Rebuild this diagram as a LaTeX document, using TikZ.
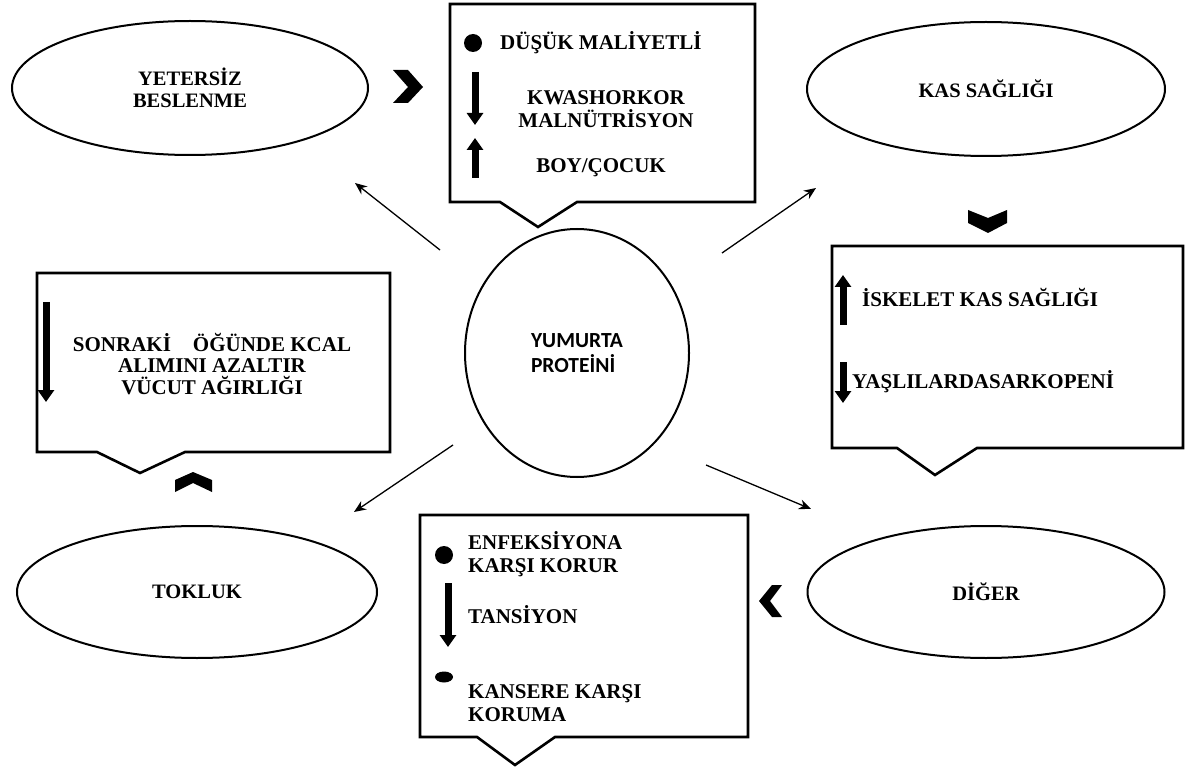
\documentclass[tikz,border=0pt]{standalone}
\usepackage{fontspec}
\setmainfont{Liberation Serif}
\newfontfamily\cbr{Carlito}
\usepackage{tikz}
\usetikzlibrary{shapes.geometric,arrows.meta}

\begin{document}
\begin{tikzpicture}[x=1pt,y=-1pt,>={Stealth[length=12pt,width=10pt]},
  oval/.style={ellipse,draw,line width=2pt,inner sep=0pt,align=center,font=\fontsize{20.5}{22}\selectfont\bfseries},
  txt/.style={align=left,inner sep=0pt,font=\fontsize{21}{22.5}\selectfont\bfseries},
  cbox/.style={draw,line width=2.6pt,line join=miter},
  conn/.style={->,line width=1.3pt},
  fat/.style={line width=7pt,-{Triangle[length=12pt,width=16pt]}}]
  \useasboundingbox (0,0) rectangle (1187,778);

  \node[oval,minimum width=224pt,minimum height=248pt,align=left,font=\cbr\fontsize{21.5}{25}\selectfont\bfseries] (prot) at (577,353) {YUMURTA\\PROTEİNİ};
  \node[oval,minimum width=356pt,minimum height=134pt] (yet) at (190,88) {YETERSİZ\\BESLENME};
  \node[oval,minimum width=358pt,minimum height=134pt] (kas) at (986,89) {KAS SAĞLIĞI};
  \node[oval,minimum width=360pt,minimum height=132pt] (tok) at (197,592) {TOKLUK};
  \node[oval,minimum width=357pt,minimum height=132pt] (dig) at (986,592) {DİĞER};

  \coordinate (y0) at (440,250); \coordinate (y1) at (355,183);
  \coordinate (k0) at (722,253); \coordinate (k1) at (816,188);
  \coordinate (t0) at (453,445); \coordinate (t1) at (354,512);
  \coordinate (d0) at (706,465); \coordinate (d1) at (811,509);
  \draw[conn] (y0) -- (y1);
  \draw[conn] (k0) -- (k1);
  \draw[conn] (t0) -- (t1);
  \draw[conn] (d0) -- (d1);

  \draw[cbox] (450,4) -- (755,4) -- (755,202) -- (577,202) -- (538,227) -- (500,202) -- (450,202) -- cycle;
  \fill (473,43) circle (9pt);
  \draw[fat] (475,72) -- (475,125);
  \draw[fat] (475,178) -- (475,138);
  \node[txt,anchor=west] (dusuk) at (500,43) {DÜŞÜK MALİYETLİ};
  \node[txt,align=center] (kwash) at (606,109) {KWASHORKOR\\MALNÜTRİSYON};
  \node[txt] (boy) at (601,168) {BOY/ÇOCUK};

  \draw[cbox] (832,246) -- (1183,246) -- (1183,448) -- (977,448) -- (935,475) -- (897,448) -- (832,448) -- cycle;
  \draw[fat] (843,325) -- (843,275);
  \draw[fat] (843,362) -- (843,403);
  \node[txt,anchor=west] (iskelet) at (862,297) {İSKELET KAS SAĞLIĞI};
  \node[txt,anchor=west] (sarko) at (852,382) {YAŞLILARDASARKOPENİ};

  \draw[cbox] (37,273) -- (390,273) -- (390,452) -- (185,452) -- (140,473) -- (97,452) -- (37,452) -- cycle;
  \draw[fat] (46,302) -- (46,402);
  \node[txt,align=center,font=\fontsize{21}{21.5}\selectfont\bfseries] (sonraki) at (212,364) {SONRAKİ\hspace{0.8em} ÖĞÜNDE KCAL\\ALIMINI AZALTIR\\VÜCUT AĞIRLIĞI};

  \draw[cbox] (420,515) -- (748,515) -- (748,737) -- (555,737) -- (515,765) -- (477,737) -- (420,737) -- cycle;
  \fill (444,555) circle (9pt);
  \draw[fat] (448,583) -- (448,647);
  \fill (444,677) ellipse (9pt and 5.5pt);
  \node[txt,anchor=west] (enf) at (468,554) {ENFEKSİYONA\\KARŞI KORUR};
  \node[txt,anchor=west] (tans) at (468,615) {TANSİYON};
  \node[txt,anchor=west] (kanser) at (468,703) {KANSERE KARŞI\\KORUMA};

  \fill (393,70) -- (408,70) -- (423,87) -- (408,103) -- (393,103) -- (408,87) -- cycle;
  \fill (968,210) -- (988,218) -- (1007,210) -- (1007,223) -- (988,233) -- (968,223) -- cycle;
  \fill (175,492) -- (175,480) -- (193,472) -- (212,480) -- (212,492) -- (193,483) -- cycle;
  \fill (782,585) -- (772,585) -- (759,601) -- (772,617) -- (782,617) -- (770,601) -- cycle;
\end{tikzpicture}
\end{document}
